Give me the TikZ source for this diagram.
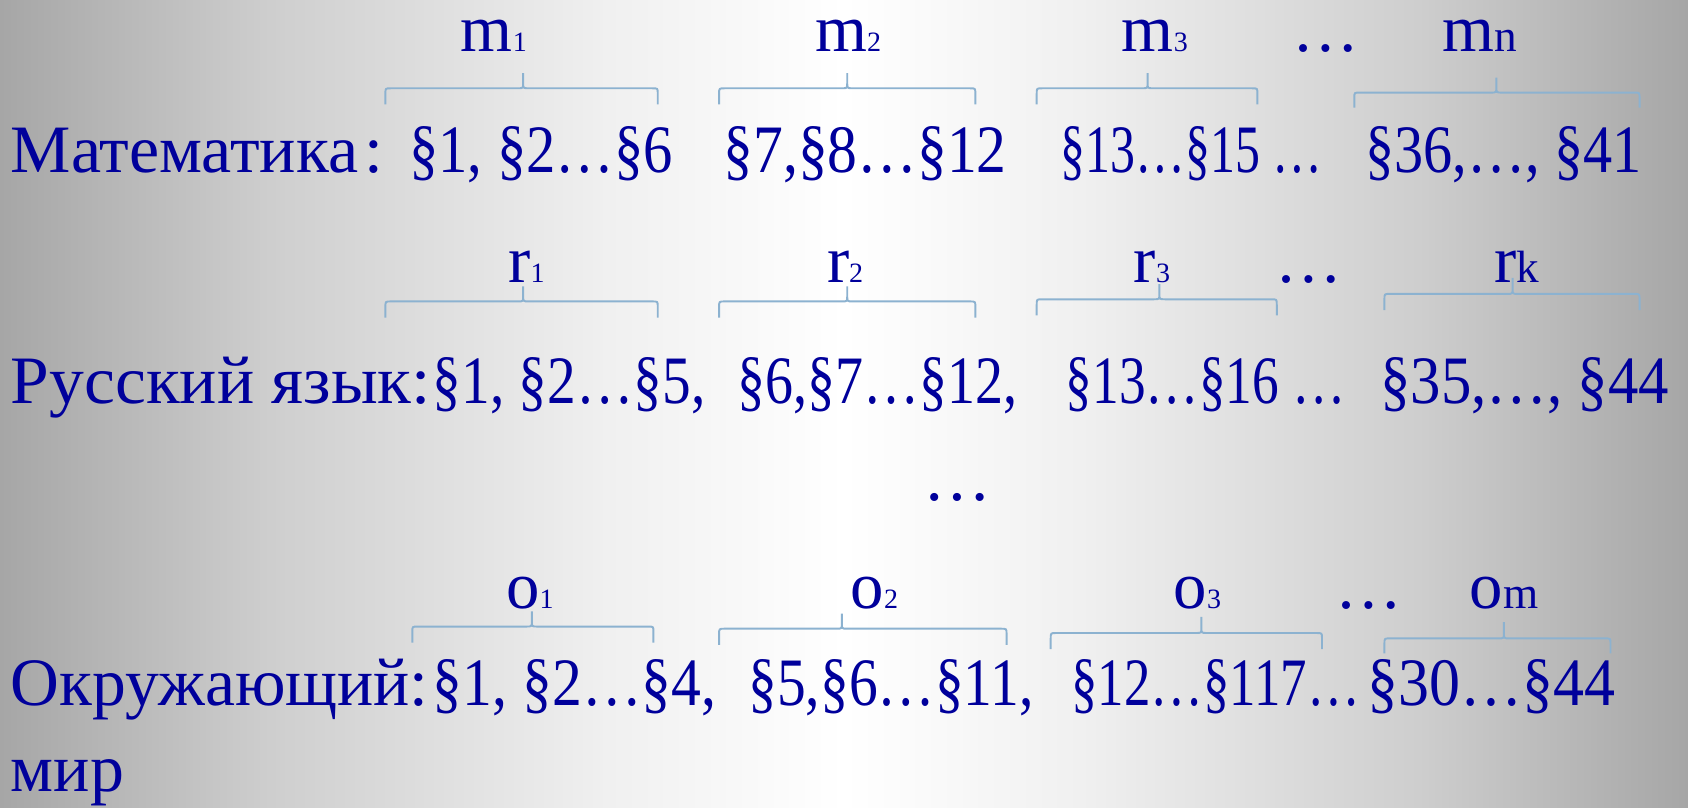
\documentclass[tikz,border=0pt]{standalone}
\usepackage{fontspec}
\setmainfont{Liberation Serif}
\definecolor{txt}{RGB}{0,0,155}
\definecolor{brcol}{RGB}{140,178,208}
\definecolor{edgecol}{RGB}{166,166,166}
\definecolor{midgray}{RGB}{206,206,206}
\definecolor{lightgray}{RGB}{240,240,240}
\pgfdeclarehorizontalshading{bgshade}{100bp}{color(0bp)=(edgecol); color(25bp)=(edgecol); color(33bp)=(midgray); color(43bp)=(lightgray); color(50bp)=(white); color(57bp)=(lightgray); color(67bp)=(midgray); color(75bp)=(edgecol); color(100bp)=(edgecol)}
\newcommand\subfnt{\fontsize{26}{26}\selectfont}
\newcommand\letfnt{\fontsize{42}{42}\selectfont}
\newcommand\fitw[2]{\resizebox{#1pt}{\height}{#2}}
\newcommand\drawbrc[6]{\draw[brcline] (#1,#5) -- (#1,#4+5) .. controls (#1,#4) .. (#1+5,#4) -- (#3-5,#4) .. controls (#3,#4) .. (#3,#4-5) -- (#3,#6) (#3,#4-5) .. controls (#3,#4) .. (#3+5,#4) -- (#2-5,#4) .. controls (#2,#4) .. (#2,#4+5) -- (#2,#5);}
\begin{document}
\begin{tikzpicture}[x=1pt,y=-1pt,
  rowtxt/.style={anchor=base west, inner sep=0pt, text=txt, font=\fontsize{63}{63}\selectfont},
  lab/.style={anchor=base west, inner sep=0pt, text=txt, font=\fontsize{62}{62}\selectfont},
  brcline/.style={draw=brcol, line width=1.8pt}]
\shade[shading=bgshade] (0,0) rectangle (1568,750);
\useasboundingbox (0,0) rectangle (1568,750);
% labels row 1
\node[lab] (m1) at (428,48) {m{\subfnt 1}};
\node[lab] (m2) at (757,48) {m{\subfnt 2}};
\node[lab] (m3) at (1042,48) {m{\subfnt 3}};
\node[lab] (md) at (1200,48) {…};
\node[lab] (mn) at (1340,48) {m{\letfnt n}};
% braces row 1
\drawbrc{358}{611}{486}{82}{97}{68}
\drawbrc{668}{906}{787}{82}{97}{68}
\drawbrc{963}{1168}{1066}{82}{97}{68}
\drawbrc{1258}{1523}{1390}{86}{100}{72}
% row 1 text
\node[rowtxt] (ma) at (10,160) {Математика};
\node[rowtxt] (mac) at (338,160) {:};
\node[rowtxt] (ma1) at (380,160) {\fitw{245}{§1, §2…§6}};
\node[rowtxt] (ma2) at (672,160) {\fitw{263}{§7,§8…§12}};
\node[rowtxt] (ma3) at (985,160) {\fitw{243}{§13…§15 …}};
\node[rowtxt] (ma4) at (1268,160) {\fitw{257}{§36,…, §41}};
% labels row 2
\node[lab] (r1) at (472,262) {r{\subfnt 1}};
\node[lab] (r2) at (768,262) {r{\subfnt 2}};
\node[lab] (r3) at (1053,262) {r{\subfnt 3}};
\node[lab] (rd) at (1185,262) {…};
\node[lab] (rk) at (1388,262) {r{\letfnt k}};
% braces row 2
\drawbrc{358}{611}{486}{280}{295}{266}
\drawbrc{668}{906}{787}{280}{295}{266}
\drawbrc{963}{1186}{1077}{278}{293}{264}
\drawbrc{1286}{1523}{1405}{273}{288}{258}
% row 2 text
\node[rowtxt] (ru) at (10,375) {\fitw{390}{Русский язык:}};
\node[rowtxt] (ru1) at (402,375) {\fitw{253}{§1, §2…§5,}};
\node[rowtxt] (ru2) at (685,375) {\fitw{260}{§6,§7…§12,}};
\node[rowtxt] (ru3) at (990,375) {\fitw{260}{§13…§16 …}};
\node[rowtxt] (ru4) at (1282,375) {\fitw{268}{§35,…, §44}};
% middle dots
\node[rowtxt] (vd) at (858,465) {…};
% labels row 3
\node[lab] (o1) at (470,565) {o{\subfnt 1}};
\node[lab] (o2) at (790,565) {o{\subfnt 2}};
\node[lab] (o3) at (1090,565) {o{\subfnt 3}};
\node[lab] (od) at (1240,565) {…};
\node[lab] (om) at (1365,565) {o{\letfnt m}};
% braces row 3
\drawbrc{383}{607}{494}{582}{597}{568}
\drawbrc{668}{935}{782}{584}{599}{570}
\drawbrc{976}{1228}{1116}{588}{603}{573}
\drawbrc{1286}{1496}{1397}{593}{607}{578}
% row 3 text
\node[rowtxt] (ok) at (10,655) {\fitw{388}{Окружающий:}};
\node[rowtxt] (ok1) at (402,655) {\fitw{263}{§1, §2…§4,}};
\node[rowtxt] (ok2) at (695,655) {\fitw{265}{§5,§6…§11,}};
\node[rowtxt] (ok3) at (995,655) {\fitw{268}{§12…§117…}};
\node[rowtxt] (ok4) at (1270,655) {\fitw{230}{§30…§44}};
\node[rowtxt] (mir) at (10,735) {мир};
\end{tikzpicture}
\end{document}
